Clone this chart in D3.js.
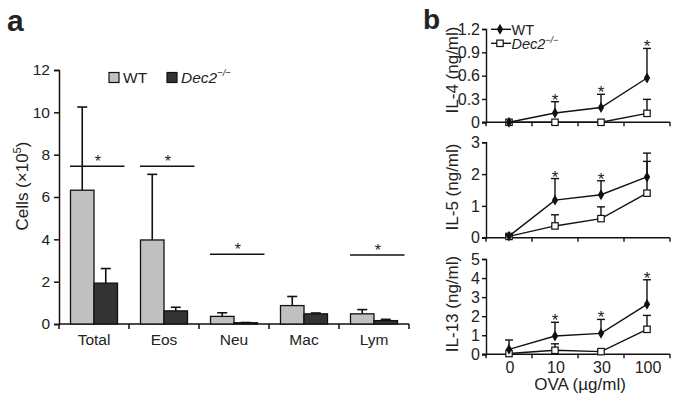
<!DOCTYPE html>
<html>
<head>
<meta charset="utf-8">
<script src="https://cdn.jsdelivr.net/npm/d3@7"></script>
<style>
  html, body { margin: 0; padding: 0; background: #fff; }
  svg { display: block; font-family: "Liberation Sans", Arial, sans-serif; }
</style>
</head>
<body>
<svg id="chart" width="681" height="402"></svg>
<script>
// ---------- Panel a data ----------
const cellCategories = ["Total", "Eos", "Neu", "Mac", "Lym"];
const cellWT = [6.32, 3.97, 0.36, 0.87, 0.48];
const cellWTErr = [3.93, 3.10, 0.17, 0.43, 0.20];
const cellKO = [1.93, 0.62, 0.06, 0.48, 0.16];
const cellKOErr = [0.69, 0.17, 0.01, 0.04, 0.06];
const cellSig = [true, true, true, false, true];
const cellSigLevel = [7.45, 7.45, 3.3, null, 3.26];
const cellTicks = [0, 2, 4, 6, 8, 10, 12];

// ---------- Panel b data ----------
const ovaDoses = ["0", "10", "30", "100"];
const il4WT = [0, 0.12, 0.19, 0.57];
const il4WTErr = [0, 0.145, 0.17, 0.38];
const il4KO = [0, 0, 0, 0.115];
const il4KOErr = [0, 0, 0, 0.18];
const il4Sig = [false, true, true, true];
const il4Ticks = [0, 0.3, 0.6, 0.9, 1.2];

const il5WT = [0.05, 1.18, 1.35, 1.91];
const il5WTErr = [0.05, 0.68, 0.44, 0.75];
const il5KO = [0.04, 0.37, 0.60, 1.40];
const il5KOErr = [0.04, 0.35, 0.37, 1.00];
const il5Sig = [false, true, true, false];
const il5Ticks = [0, 1, 2, 3];

const il13WT = [0.26, 0.96, 1.10, 2.62];
const il13WTErr = [0.49, 0.72, 0.73, 1.29];
const il13KO = [0.04, 0.21, 0.14, 1.31];
const il13KOErr = [0, 0.34, 0.08, 0.73];
const il13Sig = [false, true, true, true];
const il13Ticks = [0, 1, 2, 3, 4, 5];

const TXT = "#222";
const svg = d3.select("#chart");

// ================= Panel a =================
svg.append("text").attr("x", 7).attr("y", 31).attr("font-size", 30).attr("font-weight", "bold")
  .attr("fill", TXT).text("a");

const xa = d3.scaleBand().domain(cellCategories).range([59, 409]).paddingInner(0).paddingOuter(0);
const ya = d3.scaleLinear().domain([0, 12]).range([324, 70]);
const pad = 11.5;
const bw = (xa.bandwidth() - 2 * pad) / 2;

const ga = svg.append("g");
// y axis
const yAxisA = ga.append("g").attr("transform", "translate(59,0)")
  .call(d3.axisLeft(ya).tickValues(cellTicks).tickFormat(d3.format("d")).tickSize(5).tickPadding(4));
// x axis with ticks at boundaries
ga.append("line").attr("x1", 59).attr("x2", 409).attr("y1", ya(0)).attr("y2", ya(0))
  .attr("stroke", "#111").attr("stroke-width", 1.5);
const bounds = cellCategories.map(c => xa(c)).concat([xa.range()[1]]);
ga.selectAll(".xt").data(bounds).enter().append("line")
  .attr("x1", d => d).attr("x2", d => d).attr("y1", ya(0)).attr("y2", ya(0) + 5)
  .attr("stroke", "#111").attr("stroke-width", 1.5);
ga.selectAll(".xl").data(cellCategories).enter().append("text")
  .attr("x", d => xa(d) + xa.bandwidth() / 2).attr("y", 345)
  .attr("text-anchor", "middle").attr("font-size", 15.5).attr("fill", TXT).text(d => d);

yAxisA.select(".domain").attr("stroke", "#111").attr("stroke-width", 1.5);
yAxisA.selectAll(".tick line").attr("stroke", "#111").attr("stroke-width", 1.5);
yAxisA.selectAll(".tick text").attr("font-size", 15.5).attr("fill", TXT).attr("font-family", "Liberation Sans, Arial, sans-serif");

// y label
const ylab = ga.append("text").attr("transform", "translate(28,186) rotate(-90)")
  .attr("text-anchor", "middle").attr("font-size", 17).attr("fill", TXT);
ylab.append("tspan").text("Cells (\u00d710");
ylab.append("tspan").attr("font-size", 11).attr("dy", -7).text("5");
ylab.append("tspan").attr("dy", 7).text(")");

// error bars + bars
function barGroup(vals, errs, offset, fill) {
  cellCategories.forEach((c, i) => {
    const x0 = xa(c) + pad + offset;
    const cx = x0 + bw / 2;
    ga.append("line").attr("x1", cx).attr("x2", cx).attr("y1", ya(vals[i])).attr("y2", ya(vals[i] + errs[i]))
      .attr("stroke", "#111").attr("stroke-width", 1.6);
    ga.append("line").attr("x1", cx - 5).attr("x2", cx + 5).attr("y1", ya(vals[i] + errs[i])).attr("y2", ya(vals[i] + errs[i]))
      .attr("stroke", "#111").attr("stroke-width", 1.6);
    ga.append("rect").attr("x", x0).attr("y", ya(vals[i])).attr("width", bw)
      .attr("height", ya(0) - ya(vals[i])).attr("fill", fill).attr("stroke", "#111").attr("stroke-width", 1.3);
  });
}
barGroup(cellWT, cellWTErr, 0, "#c0c0c0");
barGroup(cellKO, cellKOErr, bw, "#333333");

// significance lines
cellCategories.forEach((c, i) => {
  if (!cellSig[i]) return;
  const x1 = xa(c) + pad - 0.5, x2 = xa(c) + xa.bandwidth() - 4.5;
  const y = ya(cellSigLevel[i]);
  ga.append("line").attr("x1", x1).attr("x2", x2).attr("y1", y).attr("y2", y)
    .attr("stroke", "#111").attr("stroke-width", 1.5);
  ga.append("text").attr("x", (x1 + x2) / 2 + 0.5).attr("y", y + 1).attr("text-anchor", "middle")
    .attr("font-size", 16).attr("fill", TXT).text("*");
});

// legend a
const legA = [{ x: 109, fill: "#c0c0c0", label: "WT", it: false }, { x: 167, fill: "#333333", label: "Dec2", it: true }];
legA.forEach(l => {
  ga.append("rect").attr("x", l.x).attr("y", 72.5).attr("width", 10).attr("height", 10)
    .attr("fill", l.fill).attr("stroke", "#111").attr("stroke-width", 1.2);
  const t = ga.append("text").attr("x", l.x + 14).attr("y", 83).attr("font-size", 15.5).attr("fill", TXT);
  t.append("tspan").attr("font-style", l.it ? "italic" : "normal").text(l.label);
  if (l.it) t.append("tspan").attr("font-size", 9.5).attr("dy", -7).attr("font-style", "italic").text("\u2212/\u2212");
});

// ================= Panel b =================
svg.append("text").attr("x", 423).attr("y", 29).attr("font-size", 28).attr("font-weight", "bold")
  .attr("fill", TXT).text("b");

const xb = d3.scaleBand().domain(ovaDoses).range([486, 670]);
const xc = d => xb(d) + xb.bandwidth() / 2;

const panels = [
  { wt: il4WT, wtE: il4WTErr, ko: il4KO, koE: il4KOErr, sig: il4Sig, ticks: il4Ticks, dom: [0, 1.2], range: [122.3, 29],
    fmt: d => d === 0 ? "0" : d3.format(".1f")(d), label: "IL-4 (ng/ml)", labY: 70, xlabels: false },
  { wt: il5WT, wtE: il5WTErr, ko: il5KO, koE: il5KOErr, sig: il5Sig, ticks: il5Ticks, dom: [0, 3], range: [237.7, 142.3],
    fmt: d3.format("d"), label: "IL-5 (ng/ml)", labY: 187, xlabels: false },
  { wt: il13WT, wtE: il13WTErr, ko: il13KO, koE: il13KOErr, sig: il13Sig, ticks: il13Ticks, dom: [0, 5], range: [354.3, 259],
    fmt: d3.format("d"), label: "IL-13 (ng/ml)", labY: 304, xlabels: true }
];

const diamond = d3.symbol().type(d3.symbolDiamond).size(34);

panels.forEach(p => {
  const y = d3.scaleLinear().domain(p.dom).range(p.range);
  const g = svg.append("g");
  const ax = g.append("g").attr("transform", "translate(486,0)")
    .call(d3.axisLeft(y).tickValues(p.ticks).tickFormat(p.fmt).tickSize(4).tickPadding(2));
  ax.select(".domain").attr("stroke", "#111").attr("stroke-width", 1.4);
  ax.selectAll(".tick line").attr("stroke", "#111").attr("stroke-width", 1.4);
  ax.selectAll(".tick text").attr("font-size", 16).attr("fill", TXT).attr("font-family", "Liberation Sans, Arial, sans-serif");

  // x axis
  g.append("line").attr("x1", 482).attr("x2", 670).attr("y1", y(0)).attr("y2", y(0))
    .attr("stroke", "#111").attr("stroke-width", 1.4);
  const bb = ovaDoses.map(d => xb(d)).concat([xb.range()[1]]);
  g.selectAll(".xt").data(bb).enter().append("line")
    .attr("x1", d => d).attr("x2", d => d).attr("y1", y(0)).attr("y2", y(0) + 4)
    .attr("stroke", "#111").attr("stroke-width", 1.4);
  if (p.xlabels) {
    g.selectAll(".xl").data(ovaDoses).enter().append("text")
      .attr("x", d => xc(d) + 1).attr("y", 373).attr("text-anchor", "middle")
      .attr("font-size", 16).attr("fill", TXT).text(d => d);
    g.append("text").attr("x", 580).attr("y", 390).attr("text-anchor", "middle")
      .attr("font-size", 17).attr("fill", TXT).text("OVA (\u00b5g/ml)");
  }
  g.append("text").attr("transform", `translate(458,${p.labY}) rotate(-90)`).attr("text-anchor", "middle")
    .attr("font-size", 17).attr("fill", TXT).text(p.label);

  const line = d3.line().x((d, i) => xc(ovaDoses[i])).y(d => y(d));

  function series(vals, errs, kind) {
    // error bars (upward)
    vals.forEach((v, i) => {
      if (errs[i] <= 0) return;
      const cx = xc(ovaDoses[i]);
      g.append("line").attr("x1", cx).attr("x2", cx).attr("y1", y(v)).attr("y2", y(v + errs[i]))
        .attr("stroke", "#111").attr("stroke-width", 1.4);
      g.append("line").attr("x1", cx - 4).attr("x2", cx + 4).attr("y1", y(v + errs[i])).attr("y2", y(v + errs[i]))
        .attr("stroke", "#111").attr("stroke-width", 1.4);
    });
    g.append("path").attr("d", line(vals)).attr("fill", "none").attr("stroke", "#111").attr("stroke-width", 1.4);
    vals.forEach((v, i) => {
      const cx = xc(ovaDoses[i]);
      if (kind === "wt") {
        g.append("path").attr("d", diamond()).attr("transform", `translate(${cx},${y(v)})`).attr("fill", "#111");
      } else {
        g.append("rect").attr("x", cx - 3.2).attr("y", y(v) - 3.2).attr("width", 6.4).attr("height", 6.4)
          .attr("fill", "#fff").attr("stroke", "#111").attr("stroke-width", 1.2);
      }
    });
  }
  series(p.ko, p.koE, "ko");
  series(p.wt, p.wtE, "wt");

  p.sig.forEach((s, i) => {
    if (!s) return;
    const top = Math.max(p.wt[i] + p.wtE[i], p.ko[i] + p.koE[i]);
    g.append("text").attr("x", xc(ovaDoses[i])).attr("y", y(top) + 4).attr("text-anchor", "middle")
      .attr("font-size", 17).attr("fill", TXT).text("*");
  });
});

// legend b
const gl = svg.append("g");
[{ y: 29.3, kind: "wt", label: "WT" }, { y: 43.3, kind: "ko", label: "Dec2" }].forEach(l => {
  gl.append("line").attr("x1", 491).attr("x2", 511).attr("y1", l.y).attr("y2", l.y).attr("stroke", "#111").attr("stroke-width", 1.4);
  if (l.kind === "wt") {
    gl.append("path").attr("d", diamond()).attr("transform", `translate(500,${l.y})`).attr("fill", "#111");
  } else {
    gl.append("rect").attr("x", 496.8).attr("y", l.y - 3.2).attr("width", 6.4).attr("height", 6.4)
      .attr("fill", "#fff").attr("stroke", "#111").attr("stroke-width", 1.2);
  }
  const t = gl.append("text").attr("x", 511.5).attr("y", l.y + 5.3).attr("font-size", 14.5).attr("fill", TXT);
  t.append("tspan").attr("font-style", l.kind === "ko" ? "italic" : "normal").text(l.label);
  if (l.kind === "ko") t.append("tspan").attr("font-size", 9).attr("dy", -6).attr("font-style", "italic").text("\u2212/\u2212");
});
</script>
</body>
</html>
